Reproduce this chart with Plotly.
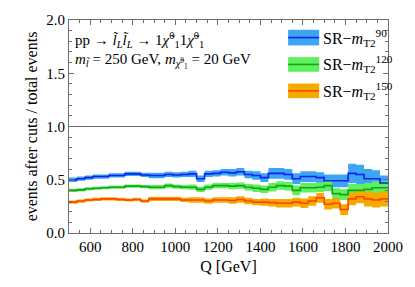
import plotly.graph_objects as go

# bin edges (GeV)
edges = [500, 537.5, 575, 612.5, 650, 687.5, 725, 762.5, 800, 837.5,
         875, 912.5, 950, 987.5, 1025, 1062.5, 1100, 1137.5, 1175, 1212.5,
         1250, 1287.5, 1325, 1362.5, 1400, 1437.5, 1475, 1512.5, 1550, 1587.5,
         1625, 1662.5, 1700, 1737.5, 1775, 1812.5, 1850, 1887.5, 1925, 1962.5, 2000]

sr90 = [0.50, 0.51, 0.52, 0.53, 0.53, 0.54, 0.54, 0.555, 0.555, 0.545,
        0.54, 0.54, 0.55, 0.545, 0.55, 0.555, 0.51, 0.555, 0.56, 0.57,
        0.565, 0.575, 0.55, 0.54, 0.52, 0.56, 0.56, 0.55, 0.51, 0.53,
        0.53, 0.52, 0.49, 0.49, 0.49, 0.56, 0.55, 0.51, 0.51, 0.47]
sr90_err = [0.02, 0.02, 0.02, 0.02, 0.02, 0.02, 0.02, 0.02, 0.02, 0.02,
            0.025, 0.025, 0.025, 0.025, 0.025, 0.03, 0.03, 0.03, 0.03, 0.03,
            0.035, 0.035, 0.035, 0.04, 0.04, 0.05, 0.05, 0.05, 0.05, 0.05,
            0.05, 0.05, 0.06, 0.06, 0.06, 0.09, 0.09, 0.09, 0.08, 0.07]

sr120 = [0.40, 0.405, 0.415, 0.42, 0.425, 0.43, 0.43, 0.44, 0.44, 0.435,
         0.43, 0.43, 0.445, 0.435, 0.43, 0.43, 0.41, 0.43, 0.445, 0.445,
         0.44, 0.445, 0.43, 0.42, 0.41, 0.43, 0.445, 0.44, 0.40, 0.425,
         0.425, 0.43, 0.445, 0.37, 0.36, 0.40, 0.40, 0.41, 0.425, 0.425]
sr120_err = [0.015, 0.015, 0.015, 0.015, 0.015, 0.015, 0.015, 0.015, 0.015, 0.015,
             0.02, 0.02, 0.02, 0.02, 0.02, 0.025, 0.025, 0.025, 0.025, 0.025,
             0.03, 0.03, 0.03, 0.035, 0.035, 0.04, 0.04, 0.04, 0.045, 0.045,
             0.045, 0.045, 0.05, 0.05, 0.05, 0.06, 0.06, 0.06, 0.06, 0.06]

sr150 = [0.29, 0.30, 0.31, 0.315, 0.32, 0.32, 0.315, 0.31, 0.315, 0.30,
         0.32, 0.32, 0.32, 0.32, 0.31, 0.31, 0.31, 0.30, 0.31, 0.31,
         0.305, 0.315, 0.30, 0.29, 0.29, 0.285, 0.28, 0.28, 0.29, 0.28,
         0.30, 0.33, 0.27, 0.28, 0.22, 0.32, 0.34, 0.32, 0.31, 0.32]
sr150_err = [0.015, 0.015, 0.015, 0.015, 0.015, 0.015, 0.015, 0.015, 0.015, 0.015,
             0.02, 0.02, 0.02, 0.02, 0.02, 0.025, 0.025, 0.025, 0.025, 0.025,
             0.03, 0.03, 0.03, 0.03, 0.035, 0.035, 0.04, 0.04, 0.04, 0.045,
             0.045, 0.045, 0.05, 0.05, 0.05, 0.06, 0.06, 0.07, 0.07, 0.07]

series = [
    ("90", sr90, sr90_err, "rgb(60,165,245)", "rgb(15,35,235)"),
    ("120", sr120, sr120_err, "rgb(95,240,95)", "rgb(20,165,20)"),
    ("150", sr150, sr150_err, "rgb(245,170,0)", "rgb(255,70,0)"),
]

FONT = "'Liberation Serif', 'Times New Roman', 'DejaVu Serif', serif"
AXFONT = "serif"
fig = go.Figure()

def stepy(vals):
    return list(vals) + [vals[-1]]

for name, v, e, band, line in series:
    lo = [a - b for a, b in zip(v, e)]
    hi = [a + b for a, b in zip(v, e)]
    fig.add_trace(go.Scatter(x=edges, y=stepy(lo), mode="lines", line=dict(width=0, shape="hv"),
                             showlegend=False, hoverinfo="skip"))
    fig.add_trace(go.Scatter(x=edges, y=stepy(hi), mode="lines", line=dict(width=0, shape="hv"),
                             fill="tonexty", fillcolor=band, showlegend=False, hoverinfo="skip"))

for name, v, e, band, line in series:
    fig.add_trace(go.Scatter(x=edges, y=stepy(v), mode="lines",
                             line=dict(color=line, width=1.6, shape="hv"), showlegend=False))

fig.add_hline(y=1.0, line=dict(color="rgb(110,110,110)", width=1.2))

# legend drawn manually
x0p, x1p = 295, 327
left, right, top, bottom = 69, 398, 15, 233
W, H = right - left, bottom - top
def px(x): return (x - left) / W
def py(y): return (bottom - y) / H
leg_rows = [(25, 41), (53, 68), (80, 95)]
for (name, v, e, band, line), (ya, yb) in zip(series, leg_rows):
    fig.add_shape(type="rect", xref="paper", yref="paper", x0=px(x0p), x1=px(x1p),
                  y0=py(yb), y1=py(ya), fillcolor=band, line=dict(width=0))
    ym = py((ya + yb) / 2)
    fig.add_shape(type="line", xref="paper", yref="paper", x0=px(x0p), x1=px(x1p),
                  y0=ym, y1=ym, line=dict(color=line, width=1.6))
    fig.add_annotation(xref="paper", yref="paper", x=px(329), y=ym, xanchor="left", yanchor="middle",
                       text="SR\u2212<i>m</i><sub>T2</sub><sup>" + name + "</sup>", showarrow=False,
                       font=dict(family=FONT, size=16, color="black"))

fig.add_annotation(xref="paper", yref="paper", x=px(73), y=py(35), xanchor="left", yanchor="middle",
                   text="pp \u2192 <i>l\u0303</i><sub><i>L</i></sub><i>l\u0303</i><sub><i>L</i></sub> \u2192 1<i>\u03c7\u0303</i><sup>0</sup><sub>1</sub>1<i>\u03c7\u0303</i><sup>0</sup><sub>1</sub>",
                   showarrow=False, font=dict(family=FONT, size=15, color="black"))
fig.add_annotation(xref="paper", yref="paper", x=px(73), y=py(57), xanchor="left", yanchor="middle",
                   text="<i>m</i><sub><i>l\u0303</i></sub> = 250 GeV, <i>m</i><sub><i>\u03c7\u0303</i><sup>0</sup><sub>1</sub></sub> = 20 GeV",
                   showarrow=False, font=dict(family=FONT, size=15, color="black"))

axis_common = dict(showline=True, linecolor="rgb(110,110,110)", linewidth=1, mirror="allticks",
                   ticks="inside", ticklen=5, tickcolor="rgb(110,110,110)", showgrid=False, zeroline=False,
                   ticklabeloverflow="allow",
                   tickfont=dict(family=AXFONT, size=15, color="black"))
fig.update_xaxes(range=[500, 2000], tickvals=[600, 800, 1000, 1200, 1400, 1600, 1800, 2000],
                 title=dict(text="Q [GeV]", font=dict(family=AXFONT, size=16, color="black"), standoff=6),
                 minor=dict(ticks="inside", ticklen=3, dtick=50, tick0=500, tickcolor="rgb(110,110,110)"),
                 **axis_common)
fig.update_yaxes(range=[0, 2.0], tickvals=[0, 0.5, 1.0, 1.5, 2.0], ticktext=["0.0", "0.5", "1.0", "1.5", "2.0"],
                 title=dict(text="events after cuts / total events", font=dict(family=AXFONT, size=16, color="black"), standoff=4),
                 minor=dict(ticks="inside", ticklen=3, dtick=0.1, tickcolor="rgb(110,110,110)"),
                 **axis_common)
fig.update_layout(width=415, height=287, margin=dict(l=69, r=17, t=15, b=54),
                  font=dict(family=FONT, color="black"),
                  plot_bgcolor="white", paper_bgcolor="white", showlegend=False)
fig.write_html("out.html", config={"displayModeBar": False},
               post_script=["document.body.style.margin='0';document.body.style.overflow='hidden';"])
